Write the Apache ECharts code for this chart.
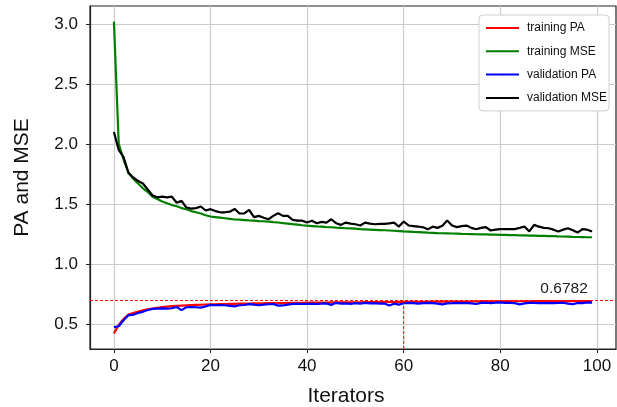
<!DOCTYPE html>
<html>
<head>
<meta charset="utf-8">
<script src="https://cdn.jsdelivr.net/npm/echarts@6/dist/echarts.min.js"></script>
<style>
  html, body { margin: 0; padding: 0; background: #fff; }
  #main { width: 617px; height: 407px; }
</style>
</head>
<body>
<div id="main"></div>
<script>
// 训练曲线数据 (iterator 0..99)
var trainPA = [
  0.42, 0.49, 0.54, 0.577, 0.59, 0.602, 0.612, 0.62, 0.628, 0.634,
  0.639, 0.643, 0.647, 0.65, 0.652, 0.654, 0.656, 0.658, 0.659, 0.661,
  0.662, 0.663, 0.664, 0.665, 0.666, 0.667, 0.668, 0.668, 0.669, 0.67,
  0.67, 0.671, 0.672, 0.672, 0.673, 0.673, 0.674, 0.674, 0.675, 0.675,
  0.676, 0.676, 0.677, 0.677, 0.677, 0.678, 0.678, 0.679, 0.679, 0.679,
  0.68, 0.68, 0.681, 0.681, 0.681, 0.682, 0.682, 0.682, 0.682, 0.683,
  0.683, 0.683, 0.684, 0.684, 0.684, 0.684, 0.685, 0.685, 0.685, 0.685,
  0.686, 0.686, 0.686, 0.686, 0.686, 0.687, 0.687, 0.687, 0.687, 0.687,
  0.687, 0.688, 0.688, 0.688, 0.688, 0.688, 0.688, 0.689, 0.689, 0.689,
  0.689, 0.689, 0.689, 0.689, 0.69, 0.69, 0.69, 0.69, 0.69, 0.69
];
var trainMSE = [
  3.02, 2.00, 1.87, 1.76, 1.71, 1.67, 1.63, 1.60, 1.56, 1.54,
  1.52, 1.505, 1.49, 1.48, 1.465, 1.455, 1.44, 1.43, 1.42, 1.405,
  1.395, 1.39, 1.385, 1.38, 1.375, 1.37, 1.368, 1.365, 1.362, 1.36,
  1.357, 1.355, 1.352, 1.348, 1.345, 1.34, 1.336, 1.331, 1.327, 1.322,
  1.318, 1.315, 1.312, 1.31, 1.307, 1.305, 1.302, 1.3, 1.297, 1.295,
  1.293, 1.29, 1.288, 1.286, 1.284, 1.282, 1.28, 1.278, 1.276, 1.273,
  1.27, 1.268, 1.266, 1.265, 1.263, 1.26, 1.258, 1.256, 1.255, 1.254,
  1.253, 1.252, 1.25, 1.249, 1.248, 1.247, 1.246, 1.245, 1.244, 1.243,
  1.242, 1.241, 1.24, 1.239, 1.238, 1.237, 1.236, 1.235, 1.234, 1.233,
  1.232, 1.231, 1.229, 1.228, 1.227, 1.225, 1.224, 1.223, 1.222, 1.222
];
var validPA = [
  0.472, 0.48, 0.53, 0.572, 0.575, 0.59, 0.60, 0.615, 0.625, 0.627,
  0.628, 0.626, 0.63, 0.64, 0.614, 0.638, 0.64, 0.638, 0.635, 0.645,
  0.658, 0.655, 0.657, 0.655, 0.65, 0.645, 0.655, 0.657, 0.664, 0.66,
  0.655, 0.66, 0.663, 0.665, 0.652, 0.653, 0.66, 0.666, 0.668, 0.665,
  0.667, 0.668, 0.665, 0.668, 0.67, 0.658, 0.675, 0.668, 0.67, 0.666,
  0.672, 0.668, 0.674, 0.67, 0.672, 0.668, 0.67, 0.653, 0.668, 0.66,
  0.672, 0.674, 0.672, 0.668, 0.672, 0.674, 0.673, 0.668, 0.662, 0.67,
  0.672, 0.675, 0.672, 0.674, 0.67, 0.665, 0.674, 0.676, 0.673, 0.676,
  0.678, 0.674, 0.675, 0.672, 0.662, 0.67, 0.674, 0.675, 0.672, 0.673,
  0.675, 0.673, 0.674, 0.676, 0.668, 0.663, 0.674, 0.672, 0.678, 0.677
];
var validMSE = [
  2.10, 1.95, 1.89, 1.76, 1.72, 1.69, 1.67, 1.62, 1.57, 1.555,
  1.56, 1.555, 1.56, 1.51, 1.525, 1.47, 1.46, 1.465, 1.478, 1.445,
  1.456, 1.44, 1.43, 1.43, 1.435, 1.458, 1.42, 1.42, 1.45, 1.39,
  1.40, 1.385, 1.372, 1.40, 1.422, 1.40, 1.40, 1.367, 1.36, 1.36,
  1.344, 1.36, 1.339, 1.35, 1.344, 1.372, 1.339, 1.325, 1.344, 1.335,
  1.33, 1.32, 1.344, 1.335, 1.33, 1.333, 1.333, 1.338, 1.344, 1.311,
  1.353, 1.32, 1.315, 1.31, 1.305, 1.289, 1.31, 1.30, 1.317, 1.361,
  1.32, 1.306, 1.315, 1.319, 1.30, 1.289, 1.30, 1.306, 1.278, 1.285,
  1.29, 1.289, 1.29, 1.29, 1.30, 1.311, 1.27, 1.325, 1.31, 1.30,
  1.297, 1.285, 1.27, 1.285, 1.297, 1.28, 1.261, 1.289, 1.285, 1.27
];
var xTicks = [0, 20, 40, 60, 80, 100];
var yTicks = [0.5, 1.0, 1.5, 2.0, 2.5, 3.0];
var refLineY = 0.705;
var refLineX = 60;
var refText = '0.6782';

var FONT = 'Liberation Sans';
var refStyle = { color: '#ff0000', type: [3, 2], width: 1 };

var toPairs = function (arr) {
    var out = [];
    for (var i = 0; i < arr.length; i++) {
        out.push([i, arr[i]]);
    }
    return out;
};

var lineSeries = function (name, data, color) {
    return {
        name: name,
        type: 'line',
        data: toPairs(data),
        showSymbol: false,
        symbol: 'none',
        legendIcon: 'rect',
        lineStyle: { color: color, width: 2.2 },
        itemStyle: { color: color },
        animation: false
    };
};

var myChart = echarts.init(document.getElementById('main'));

var series = [
    lineSeries('training PA', trainPA, '#ff0000'),
    lineSeries('training MSE', trainMSE, '#008000'),
    lineSeries('validation PA', validPA, '#0000ff'),
    lineSeries('validation MSE', validMSE, '#000000')
];

// 水平参考线
series[0].markLine = {
    silent: true,
    symbol: 'none',
    animation: false,
    label: { show: false },
    lineStyle: refStyle,
    data: [{ yAxis: refLineY, lineStyle: refStyle }]
};
// 竖直参考线 (x = 60)
series.push({
    name: 'ref',
    type: 'line',
    data: [[refLineX, 0.29], [refLineX, refLineY]],
    showSymbol: false,
    symbol: 'none',
    silent: true,
    animation: false,
    z: 5,
    lineStyle: refStyle,
    itemStyle: { color: '#ff0000' }
});
series[3].markPoint = {
    silent: true,
    animation: false,
    symbol: 'circle',
    symbolSize: 0,
    data: [{ coord: [93.2, refLineY], value: refText }],
    label: {
        show: true,
        position: 'top',
        distance: 3,
        formatter: refText,
        color: '#222',
        fontFamily: FONT,
        fontSize: 15.5
    }
};

var option = {
    backgroundColor: '#fff',
    animation: false,
    grid: {
        left: 90, right: 1, top: 6, bottom: 58,
        outerBoundsMode: 'none',
        containLabel: false,
        show: true,
        borderColor: '#222',
        borderWidth: 1.2,
        backgroundColor: 'transparent'
    },
    legend: {
        orient: 'vertical',
        left: 479,
        top: 15,
        padding: [7, 2, 7, 6],
        itemWidth: 33,
        itemHeight: 2,
        itemGap: 11.3,
        backgroundColor: '#fff',
        borderColor: '#d0d0d0',
        borderWidth: 1,
        borderRadius: 4,
        textStyle: { fontFamily: FONT, fontSize: 12, color: '#111', padding: [0, 0, 0, 3] },
        data: ['training PA', 'training MSE', 'validation PA', 'validation MSE']
    },
    xAxis: {
        type: 'value',
        min: -4.95,
        max: 103.95,
        name: 'Iterators',
        nameLocation: 'middle',
        nameGap: 37,
        nameTextStyle: { fontFamily: FONT, fontSize: 21, color: '#111', padding: [0, 14, 0, 0] },
        axisLine: { show: true, onZero: false, lineStyle: { color: '#222', width: 1.2 } },
        axisTick: { show: true, inside: false, length: 4, customValues: xTicks, lineStyle: { color: '#222' } },
        axisLabel: { customValues: xTicks, margin: 9, fontFamily: FONT, fontSize: 17, color: '#111' },
        splitLine: { show: true, lineStyle: { color: '#cccccc', width: 1.2 } }
    },
    yAxis: {
        type: 'value',
        min: 0.29,
        max: 3.15,
        name: 'PA and MSE',
        nameLocation: 'middle',
        nameGap: 57,
        nameTextStyle: { fontFamily: FONT, fontSize: 21, color: '#111' },
        axisLine: { show: true, onZero: false, lineStyle: { color: '#222', width: 1.2 } },
        axisTick: { show: true, inside: false, length: 4, customValues: yTicks, lineStyle: { color: '#222' } },
        axisLabel: {
            customValues: yTicks, margin: 12, fontFamily: FONT, fontSize: 17, color: '#111',
            formatter: function (v) { return v.toFixed(1); }
        },
        splitLine: { show: true, lineStyle: { color: '#cccccc', width: 1.2 } }
    },
    series: series
};

myChart.setOption(option);
</script>
</body>
</html>
